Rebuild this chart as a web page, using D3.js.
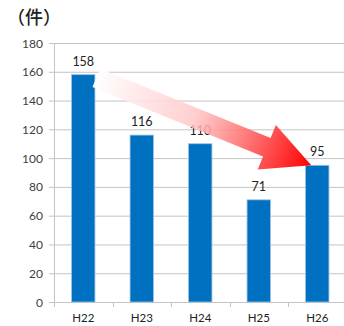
<!DOCTYPE html>
<html><head><meta charset="utf-8">
<script src="https://cdn.jsdelivr.net/npm/d3@7"></script>
<style>body{margin:0;background:#fff}svg{display:block}</style>
</head><body>
<script>
const categories = ["H22","H23","H24","H25","H26"];
const values = [158,116,110,71,95];
const yTicks = [0,20,40,60,80,100,120,140,160,180];
const unitLabel = "（件）";

const W=344,H=326;
const svg=d3.select("body").append("svg").attr("width",W).attr("height",H);
const x=d3.scaleBand().domain(categories).range([54,346.5]).padding(0);
const y=d3.scaleLinear().domain([0,180]).range([302,43]);
const font="Lato, 'Liberation Sans', sans-serif";

// gridlines
svg.append("g").selectAll("line").data(yTicks).join("line")
  .attr("x1",49).attr("x2",W).attr("y1",d=>y(d)+0.5).attr("y2",d=>y(d)+0.5)
  .attr("stroke","#c4c4c4").attr("stroke-width",1);
// y axis
svg.append("line").attr("x1",54.5).attr("x2",54.5).attr("y1",y(180)).attr("y2",y(0)+0.5).attr("stroke","#c4c4c4");
// x ticks
svg.append("g").selectAll("line").data(categories.concat([null])).join("line")
  .attr("x1",(d,i)=>Math.round(54+i*x.step())+0.5).attr("x2",(d,i)=>Math.round(54+i*x.step())+0.5)
  .attr("y1",y(0)).attr("y2",y(0)+5).attr("stroke","#c4c4c4");
// y labels
svg.append("g").selectAll("text").data(yTicks).join("text")
  .attr("x",43).attr("y",d=>y(d)+4.5).attr("text-anchor","end")
  .attr("font-family",font).attr("font-size",12).attr("fill","#404040").text(d=>d);
// bars
const bw=x.bandwidth()*0.4;
svg.append("g").selectAll("rect").data(values).join("rect")
  .attr("x",(d,i)=>x(categories[i])+x.bandwidth()/2-bw/2).attr("width",bw)
  .attr("y",d=>y(d)).attr("height",d=>y(0)-y(d))
  .attr("fill","#0070C0").attr("stroke","#9dc3e6").attr("stroke-width",0.8);
// value labels
svg.append("g").selectAll("text").data(values).join("text")
  .attr("x",(d,i)=>x(categories[i])+x.bandwidth()/2).attr("y",d=>y(d)-9)
  .attr("text-anchor","middle").attr("font-family",font).attr("font-size",12.5)
  .attr("fill","#222").text(d=>d);
// x labels
svg.append("g").selectAll("text").data(categories).join("text")
  .attr("x",d=>x(d)+x.bandwidth()/2).attr("y",322)
  .attr("text-anchor","middle").attr("font-family",font).attr("font-size",11.5)
  .attr("fill","#222").text(d=>d);
// unit label
svg.append("text").attr("x",7).attr("y",24).attr("font-family","'Noto Sans CJK JP', sans-serif")
  .attr("font-size",18).attr("font-weight",500).attr("fill","#222").text(unitLabel);

// trend arrow
const sx=x(categories[0])+x.bandwidth()/2+13, sy=y(values[0])+3;
const tx=x(categories[4])+x.bandwidth()/2-6, ty=y(values[4]);
const L=Math.hypot(tx-sx,ty-sy), ang=Math.atan2(ty-sy,tx-sx)*180/Math.PI;
const hl=48, hw=24, sw=10;
const defs=svg.append("defs");
const g=defs.append("linearGradient").attr("id","ag").attr("gradientUnits","userSpaceOnUse")
  .attr("x1",sx).attr("y1",sy).attr("x2",tx).attr("y2",ty);
g.append("stop").attr("offset",0).attr("stop-color","#ffffff").attr("stop-opacity",0.95);
g.append("stop").attr("offset",0.45).attr("stop-color","#ffc8c8").attr("stop-opacity",0.85);
g.append("stop").attr("offset",0.8).attr("stop-color","#ff4848").attr("stop-opacity",0.95);
g.append("stop").attr("offset",1).attr("stop-color","#ff0000");
const pts=[[0,-sw],[L-hl,-sw],[L-hl,-hw],[L,0],[L-hl,hw],[L-hl,sw],[0,sw]];
const rad=ang*Math.PI/180;
const tp=pts.map(([u,v])=>[sx+u*Math.cos(rad)-v*Math.sin(rad), sy+u*Math.sin(rad)+v*Math.cos(rad)]);
svg.append("path").attr("d","M"+tp.map(p=>p.join(",")).join("L")+"Z").attr("fill","url(#ag)");
</script>
</body></html>
